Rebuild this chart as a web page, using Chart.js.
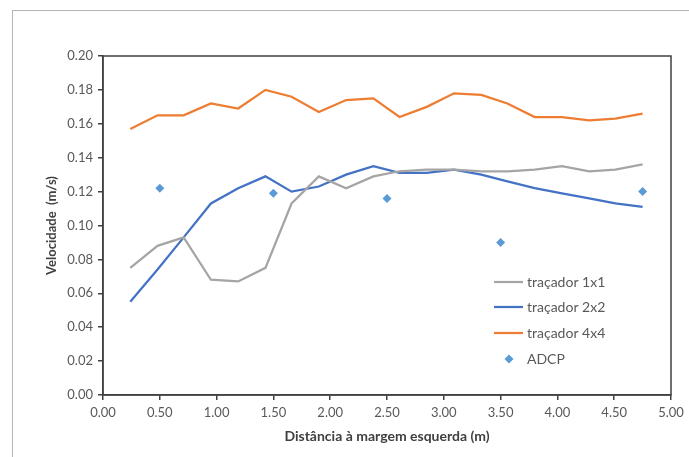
<!DOCTYPE html>
<html>
<head>
<meta charset="utf-8">
<script src="https://cdn.jsdelivr.net/npm/chart.js@4/dist/chart.umd.min.js"></script>
<style>
  html, body { margin: 0; padding: 0; background: #ffffff; }
  #wrap { width: 689px; height: 457px; position: relative; }
</style>
</head>
<body>
<div id="wrap"><canvas id="c" width="689" height="457"></canvas></div>
<script>
// Distance from the left bank (m) for the tracer sections
const distances = [0.24, 0.48, 0.71, 0.95, 1.19, 1.43, 1.66, 1.90, 2.14, 2.38,
                   2.61, 2.85, 3.09, 3.33, 3.56, 3.80, 4.04, 4.28, 4.51, 4.75];

// Velocity (m/s) per tracer grid
const tracer1x1 = [0.075, 0.088, 0.093, 0.068, 0.067, 0.075, 0.113, 0.129, 0.122, 0.129,
                   0.132, 0.133, 0.133, 0.132, 0.132, 0.133, 0.135, 0.132, 0.133, 0.136];
const tracer2x2 = [0.055, 0.074, 0.093, 0.113, 0.122, 0.129, 0.120, 0.123, 0.130, 0.135,
                   0.131, 0.131, 0.133, 0.130, 0.126, 0.122, 0.119, 0.116, 0.113, 0.111];
const tracer4x4 = [0.157, 0.165, 0.165, 0.172, 0.169, 0.180, 0.176, 0.167, 0.174, 0.175,
                   0.164, 0.170, 0.178, 0.177, 0.172, 0.164, 0.164, 0.162, 0.163, 0.166];

// ADCP measurements
const adcpDistances = [0.5, 1.5, 2.5, 3.5, 4.75];
const adcpVelocity  = [0.122, 0.119, 0.116, 0.090, 0.120];

const seriesNames = ['traçador 1x1', 'traçador 2x2', 'traçador 4x4', 'ADCP'];
const xTitle = 'Distância à margem esquerda (m)';
const yTitle = 'Velocidade  (m/s)';

const FONT = 'Lato, "Open Sans", "DejaVu Sans", sans-serif';
const TEXT = '#595959';
const AXIS = '#404040';

const toPoints = (xs, ys) => xs.map((x, i) => ({ x: x, y: ys[i] }));

const lineDs = (label, ys, color) => ({
  type: 'line',
  label: label,
  data: toPoints(distances, ys),
  borderColor: color,
  backgroundColor: color,
  borderWidth: 2.25,
  pointRadius: 0,
  tension: 0,
  fill: false
});

// Frame around the whole chart, box around the plot area and the legend
const decorations = {
  id: 'decorations',
  beforeDraw(chart) {
    const ctx = chart.ctx;
    ctx.save();
    ctx.strokeStyle = '#b4b4b4';
    ctx.lineWidth = 1;
    ctx.strokeRect(12.5, 10.5, 720, 480);
    ctx.restore();
  },
  afterDatasetsDraw(chart) {
    const ctx = chart.ctx;
    const a = chart.chartArea;
    ctx.save();
    ctx.strokeStyle = AXIS;
    ctx.lineWidth = 1.5;
    ctx.strokeRect(a.left, a.top, a.right - a.left, a.bottom - a.top);

    // legend
    const rows = [282, 307, 333, 359];
    ctx.font = '14px ' + FONT;
    ctx.textBaseline = 'middle';
    ctx.textAlign = 'left';
    chart.data.datasets.forEach((ds, i) => {
      const y = rows[i];
      if (ds.type === 'line') {
        ctx.strokeStyle = ds.borderColor;
        ctx.lineWidth = 2.25;
        ctx.beginPath();
        ctx.moveTo(494, y);
        ctx.lineTo(523, y);
        ctx.stroke();
      } else {
        ctx.fillStyle = ds.backgroundColor;
        ctx.beginPath();
        ctx.moveTo(509, y - 4.5);
        ctx.lineTo(513.5, y);
        ctx.lineTo(509, y + 4.5);
        ctx.lineTo(504.5, y);
        ctx.closePath();
        ctx.fill();
      }
      ctx.fillStyle = TEXT;
      ctx.fillText(ds.label, 527, y);
    });
    ctx.restore();
  }
};

new Chart(document.getElementById('c'), {
  type: 'scatter',
  data: {
    datasets: [
      lineDs(seriesNames[0], tracer1x1, '#A5A5A5'),
      lineDs(seriesNames[1], tracer2x2, '#4472C4'),
      lineDs(seriesNames[2], tracer4x4, '#ED7D31'),
      {
        type: 'scatter',
        label: seriesNames[3],
        data: toPoints(adcpDistances, adcpVelocity),
        backgroundColor: '#5B9BD5',
        borderColor: '#5B9BD5',
        pointStyle: 'rectRot',
        pointRadius: 4.5,
        borderWidth: 0
      }
    ]
  },
  options: {
    responsive: false,
    animation: false,
    devicePixelRatio: 1,
    layout: { padding: { left: 0, top: 56, right: 18, bottom: 0 } },
    plugins: {
      legend: { display: false },
      tooltip: { enabled: false }
    },
    scales: {
      x: {
        type: 'linear',
        min: 0,
        max: 5,
        afterFit(scale) { scale.height = 62; },
        ticks: {
          stepSize: 0.5,
          padding: 5,
          color: TEXT,
          font: { family: FONT, size: 13 },
          callback: v => Number(v).toFixed(2)
        },
        grid: { drawOnChartArea: false, drawTicks: true, tickLength: 5, color: AXIS, lineWidth: 1.5 },
        border: { display: true, color: AXIS, width: 1.5 },
        title: {
          display: true,
          text: xTitle,
          color: AXIS,
          font: { family: FONT, size: 14, weight: 'bold' },
          padding: { top: 0, bottom: 12 }
        }
      },
      y: {
        type: 'linear',
        min: 0,
        max: 0.2,
        afterFit(scale) { scale.width = 103; },
        ticks: {
          stepSize: 0.02,
          padding: 5,
          color: TEXT,
          font: { family: FONT, size: 13 },
          callback: v => Number(v).toFixed(2)
        },
        grid: { drawOnChartArea: false, drawTicks: true, tickLength: 5, color: AXIS, lineWidth: 1.5 },
        border: { display: true, color: AXIS, width: 1.5 },
        title: {
          display: true,
          text: yTitle,
          color: AXIS,
          font: { family: FONT, size: 13, weight: 'bold' },
          padding: { top: 44, bottom: 0 }
        }
      }
    }
  },
  plugins: [decorations]
});
</script>
</body>
</html>
